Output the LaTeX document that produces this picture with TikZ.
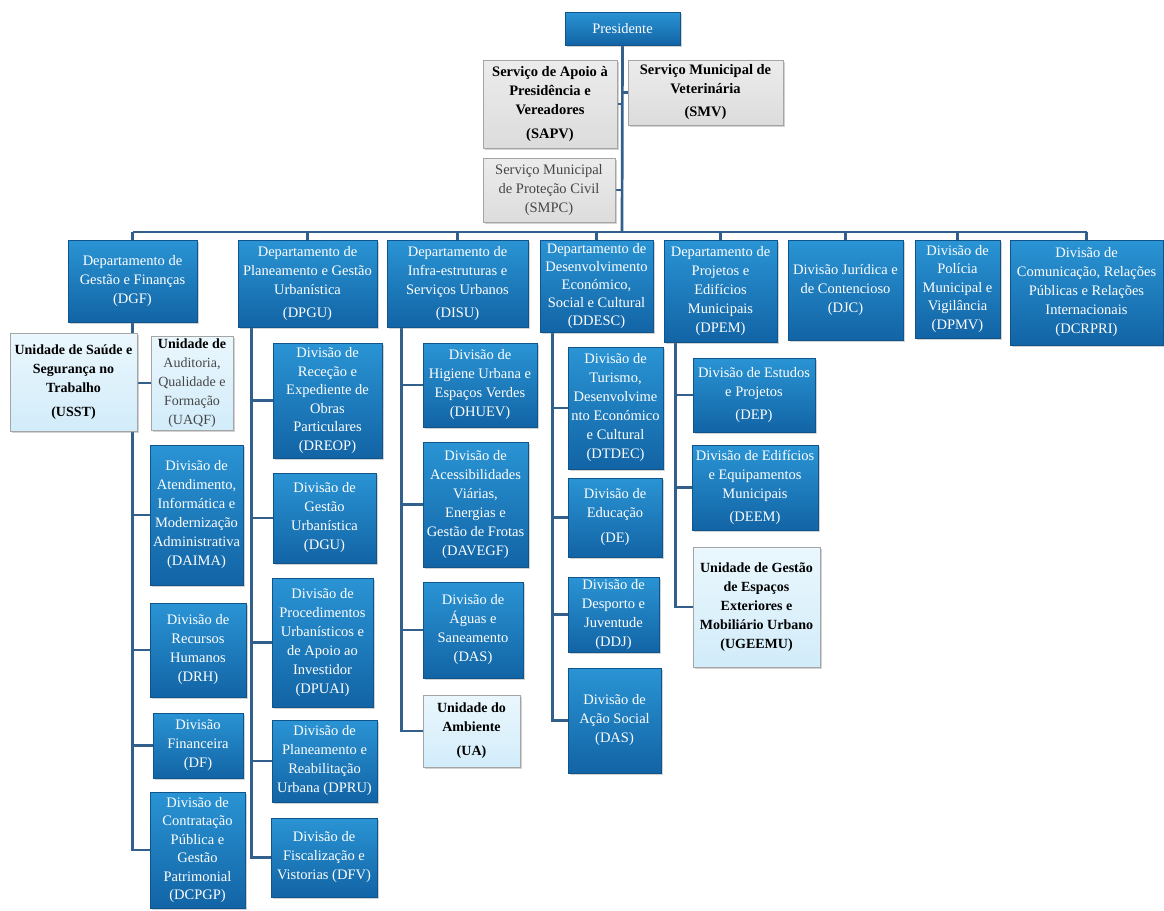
\documentclass[tikz,border=0pt]{standalone}
\usepackage{fontspec}
\setmainfont{Liberation Serif}
\usetikzlibrary{backgrounds,shadows}
\definecolor{bluetop}{RGB}{42,148,212}
\definecolor{bluebot}{RGB}{18,100,165}
\definecolor{blueedge}{RGB}{15,85,140}
\definecolor{lightfill}{RGB}{210,236,250}
\definecolor{lighttop}{RGB}{234,247,253}
\definecolor{grayfill}{RGB}{220,220,220}
\definecolor{graytop}{RGB}{236,236,236}
\definecolor{grayedge}{RGB}{165,165,165}
\definecolor{connc}{RGB}{50,95,140}
\definecolor{softtext}{RGB}{70,70,70}
\newcommand{\orgbox}[7]{\node[#2, minimum width={#5-#3}, minimum height={#6-#4}] (#1) at ({(#3+#5)/2},{(#4+#6)/2}) {#7};}
\begin{document}
\begin{tikzpicture}[x=1pt,y=-1pt,
  base/.style={rectangle, inner sep=1pt, align=center,
    drop shadow={opacity=0.35, shadow xshift=1.6pt, shadow yshift=-1.6pt}},
  bluebox/.style={base, top color=bluetop, bottom color=bluebot, draw=blueedge,
    line width=0.6pt, text=white, font=\fontsize{14.5}{19}\selectfont},
  lightbox/.style={base, top color=lighttop, bottom color=lightfill, draw=grayedge,
    line width=0.6pt, text=black, font=\fontsize{14}{19}\selectfont\bfseries},
  graybox/.style={base, top color=graytop, bottom color=grayfill, draw=grayedge,
    line width=0.6pt, text=black, font=\fontsize{14.5}{19}\selectfont\bfseries},
  conn/.style={draw=connc, line width=2.7pt}]
\useasboundingbox (0,0) rectangle (1164,910);

% top level
\orgbox{Pres}{bluebox}{565}{12}{680}{45}{Presidente}
\orgbox{SAPV}{graybox}{483}{60}{617}{148}{Serviço de Apoio à\\Presidência e\\Vereadores\\[5pt](SAPV)}
\orgbox{SMV}{graybox}{628}{60}{783}{125}{Serviço Municipal de\\Veterinária\\[4pt](SMV)}
\orgbox{SMPC}{graybox, font=\fontsize{14.5}{19}\selectfont, text=softtext}{483}{158}{615}{222}{Serviço Municipal\\de Proteção Civil\\(SMPC)}
\coordinate (bus) at (622,232);

% departments
\orgbox{DGF}{bluebox}{68}{240}{197}{322}{Departamento de\\Gestão e Finanças\\(DGF)}
\orgbox{DPGU}{bluebox}{238}{240}{377}{327}{Departamento de\\Planeamento e Gestão\\Urbanística\\[4pt](DPGU)}
\orgbox{DISU}{bluebox}{387}{240}{528}{327}{Departamento de\\Infra-estruturas e\\Serviços Urbanos\\[4pt](DISU)}
\orgbox{DDESC}{bluebox, font=\fontsize{14.5}{18}\selectfont}{540}{240}{653}{332}{Departamento de\\Desenvolvimento\\Económico,\\Social e Cultural\\(DDESC)}
\orgbox{DPEM}{bluebox}{664}{240}{777}{342}{Departamento de\\Projetos e\\Edifícios\\Municipais\\(DPEM)}
\orgbox{DJC}{bluebox}{788}{240}{903}{340}{Divisão Jurídica e\\de Contencioso\\(DJC)}
\orgbox{DPMV}{bluebox, font=\fontsize{14.5}{18.5}\selectfont}{915}{240}{1000}{338}{Divisão de\\Polícia\\Municipal e\\Vigilância\\(DPMV)}
\orgbox{DCRPRI}{bluebox}{1010}{240}{1163}{345}{Divisão de\\Comunicação, Relações\\Públicas e Relações\\Internacionais\\(DCRPRI)}

% DGF column
\orgbox{USST}{lightbox}{10}{333}{137}{431}{Unidade de Saúde e\\Segurança no\\Trabalho\\[5pt](USST)}
\orgbox{UAQF}{lightbox}{151}{336}{233}{430}{Unidade de\\{\mdseries\color{softtext}Auditoria,}\\{\mdseries\color{softtext}Qualidade e}\\{\mdseries\color{softtext}Formação}\\{\mdseries\color{softtext}(UAQF)}}
\orgbox{DAIMA}{bluebox}{150}{445}{243}{585}{Divisão de\\Atendimento,\\Informática e\\Modernização\\Administrativa\\(DAIMA)}
\orgbox{DRH}{bluebox}{150}{603}{246}{697}{Divisão de\\Recursos\\Humanos\\(DRH)}
\orgbox{DF}{bluebox}{153}{713}{243}{778}{Divisão\\Financeira\\(DF)}
\orgbox{DCPGP}{bluebox, font=\fontsize{14.5}{18.5}\selectfont}{150}{792}{245}{908}{Divisão de\\Contratação\\Pública e\\Gestão\\Patrimonial\\(DCPGP)}

% DPGU column
\orgbox{DREOP}{bluebox, font=\fontsize{14.5}{18.5}\selectfont}{273}{343}{382}{458}{Divisão de\\Receção e\\Expediente de\\Obras\\Particulares\\(DREOP)}
\orgbox{DGU}{bluebox}{273}{473}{376}{563}{Divisão de\\Gestão\\Urbanística\\(DGU)}
\orgbox{DPUAI}{bluebox}{272}{578}{373}{707}{Divisão de\\Procedimentos\\Urbanísticos e\\de Apoio ao\\Investidor\\(DPUAI)}
\orgbox{DPRU}{bluebox}{272}{720}{377}{802}{Divisão de\\Planeamento e\\Reabilitação\\Urbana (DPRU)}
\orgbox{DFV}{bluebox}{271}{818}{377}{897}{Divisão de\\Fiscalização e\\Vistorias (DFV)}

% DISU column
\orgbox{DHUEV}{bluebox}{423}{343}{537}{427}{Divisão de\\Higiene Urbana e\\Espaços Verdes\\(DHUEV)}
\orgbox{DAVEGF}{bluebox}{423}{442}{528}{567}{Divisão de\\Acessibilidades\\Viárias,\\Energias e\\Gestão de Frotas\\(DAVEGF)}
\orgbox{DAS}{bluebox}{423}{582}{523}{678}{Divisão de\\Águas e\\Saneamento\\(DAS)}
\orgbox{UA}{lightbox}{423}{695}{520}{767}{Unidade do\\Ambiente\\[5pt](UA)}

% DDESC column
\orgbox{DTDEC}{bluebox}{568}{347}{663}{469}{Divisão de\\Turismo,\\Desenvolvime\\nto Económico\\e Cultural\\(DTDEC)}
\orgbox{DE}{bluebox}{568}{478}{662}{557}{Divisão de\\Educação\\[6pt](DE)}
\orgbox{DDJ}{bluebox}{568}{577}{659}{652}{Divisão de\\Desporto e\\Juventude\\(DDJ)}
\orgbox{DASo}{bluebox}{568}{668}{661}{773}{Divisão de\\Ação Social\\(DAS)}

% DPEM column
\orgbox{DEP}{bluebox}{693}{358}{815}{432}{Divisão de Estudos\\e Projetos\\[4pt](DEP)}
\orgbox{DEEM}{bluebox}{692}{445}{818}{530}{Divisão de Edifícios\\e Equipamentos\\Municipais\\[4pt](DEEM)}
\orgbox{UGEEMU}{lightbox}{693}{547}{820}{667}{Unidade de Gestão\\de Espaços\\Exteriores e\\Mobiliário Urbano\\(UGEEMU)}

\begin{pgfonlayer}{background}
  \fill[white] (0,0) rectangle (1164,910);
  \draw[conn] (Pres.south) -- (bus);
  \draw[conn] (Pres.south |- SAPV.east) -- (SAPV.east);
  \draw[conn] (Pres.south |- SMV.west) -- (SMV.west);
  \draw[conn] (Pres.south |- SMPC.east) -- (SMPC.east);
  \draw[conn] (DGF.north |- bus) -- (DCRPRI.north |- bus);
  \foreach \d in {DGF,DPGU,DISU,DDESC,DPEM,DJC,DPMV,DCRPRI}
    \draw[conn] (\d.north |- bus) -- (\d.north);
  \foreach \c in {USST,UAQF,DAIMA,DRH,DF,DCPGP}
    \draw[conn] (DGF.south) |- (\c.west);
  \foreach \c in {DREOP,DGU,DPUAI,DPRU,DFV}
    \draw[conn] ([xshift=14pt]DPGU.south west) |- (\c.west);
  \foreach \c in {DHUEV,DAVEGF,DAS,UA}
    \draw[conn] ([xshift=15pt]DISU.south west) |- (\c.west);
  \foreach \c in {DTDEC,DE,DDJ,DASo}
    \draw[conn] ([xshift=13pt]DDESC.south west) |- (\c.west);
  \foreach \c in {DEP,DEEM,UGEEMU}
    \draw[conn] ([xshift=12pt]DPEM.south west) |- (\c.west);
\end{pgfonlayer}
\end{tikzpicture}
\end{document}
